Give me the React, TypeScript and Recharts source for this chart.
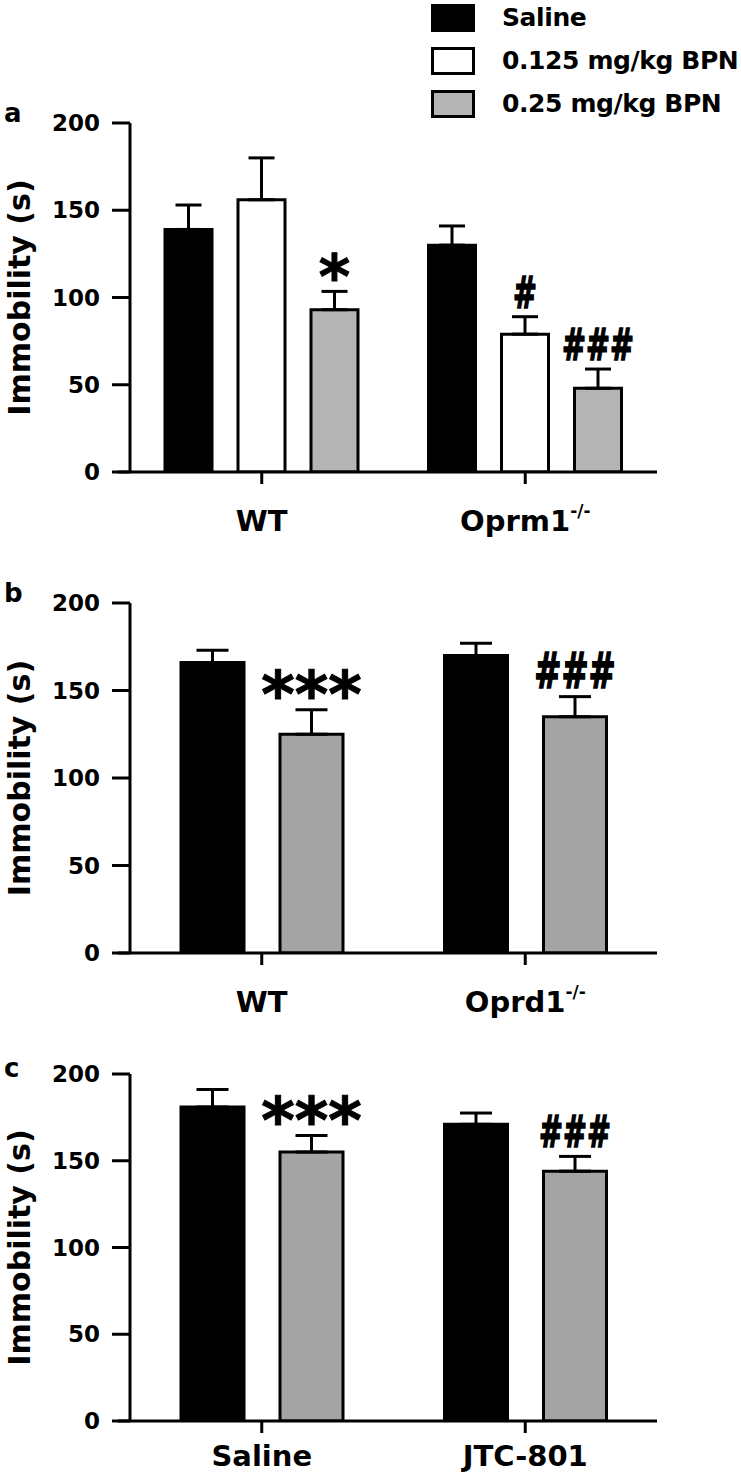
import React from "react";
import { Bar, BarChart, ErrorBar, LabelList, Legend, XAxis, YAxis } from "recharts";

const FONT = "'DejaVu Sans', sans-serif";

const seriesNames = ["Saline", "0.125 mg/kg BPN", "0.25 mg/kg BPN"];
const yTicks = [0, 50, 100, 150, 200];

// panel a
const groupsA = ["WT", "Oprm1"];
const supA = ["", "-/-"];
const salineA = [139, 130];
const salineErrA = [14, 11];
const lowA = [156, 79];
const lowErrA = [24, 10];
const highA = [93, 48];
const highErrA = [10.5, 11];
const lowMarksA = ["", "#"];
const highMarksA = ["*", "###"];

// panel b
const groupsB = ["WT", "Oprd1"];
const supB = ["", "-/-"];
const salineB = [166, 170];
const salineErrB = [7, 7];
const highB = [125, 135];
const highErrB = [14, 11.5];
const highMarksB = ["***", "###"];

// panel c
const groupsC = ["Saline", "JTC-801"];
const supC = ["", ""];
const salineC = [181, 171];
const salineErrC = [10, 6.5];
const highC = [155, 144];
const highErrC = [9.5, 8.5];
const highMarksC = ["***", "###"];

const GRAY_A = "#b4b4b4";
const GRAY_BC = "#a4a4a4";

type Series = {
  key: string;
  name: string;
  fill: string;
  values: number[];
  errs: number[];
  marks: string[] | null;
};

function makeRows(groups: string[], series: Series[]) {
  return groups.map((g, i) => {
    const row: any = { idx: i, group: g };
    series.forEach((s) => {
      row[s.key] = s.values[i];
      row[s.key + "Err"] = [0, s.errs[i]];
    });
    return row;
  });
}

function makeMark(s: Series, starSize: number, hashSize: number) {
  return (props: any) => {
    const vb = props.viewBox ?? {};
    const x = vb.x ?? props.x;
    const y = vb.y ?? props.y;
    const w = vb.width ?? props.width;
    const h = vb.height ?? props.height;
    const i = props.value;
    const mark = s.marks ? s.marks[i] : "";
    if (!mark || x == null) return null;
    const perUnit = Math.abs(h) / s.values[i];
    const errTop = Math.min(y, y + h) - s.errs[i] * perUnit;
    const cx = x + w / 2;
    if (mark.startsWith("*")) {
      return (
        <text
          x={cx}
          y={errTop + 7}
          textAnchor="middle"
          fontFamily={FONT}
          fontWeight="bold"
          fontSize={starSize}
          fill="#000"
          stroke="#000"
          strokeWidth={1}
        >
          {mark}
        </text>
      );
    }
    // hashes are tall and narrow in the figure
    return (
      <text
        transform={`translate(${cx} ${errTop - 9}) scale(0.65 1)`}
        x={0}
        y={0}
        textAnchor="middle"
        fontFamily={FONT}
        fontWeight="bold"
        fontSize={hashSize}
        fill="#000"
        stroke="#000"
        strokeWidth={1.6}
      >
        {mark}
      </text>
    );
  };
}

function LegendBox({ payload }: any) {
  const items = [...(payload ?? [])].sort(
    (a: any, b: any) => seriesNames.indexOf(a.value) - seriesNames.indexOf(b.value)
  );
  return (
    <div>
      {items.map((p: any, i: number) => (
        <div key={i} style={{ display: "flex", alignItems: "center", height: 43 }}>
          <div
            style={{
              flexShrink: 0,
              width: 38,
              height: 22,
              border: "3px solid #000",
              background: p.payload?.fill ?? p.color,
            }}
          />
          <span
            style={{
              marginLeft: 27,
              fontFamily: FONT,
              fontWeight: "bold",
              fontSize: 25,
              letterSpacing: -0.4,
              color: "#000",
              whiteSpace: "nowrap",
            }}
          >
            {p.value}
          </span>
        </div>
      ))}
    </div>
  );
}

function Panel({
  top,
  height,
  marginTop,
  axisHeight,
  groups,
  sups,
  series,
  barSize,
  barGap,
  capHalf,
  labelOffset,
  starSize,
  hashSize,
  legend,
}: {
  top: number;
  height: number;
  marginTop: number;
  axisHeight: number;
  groups: string[];
  sups: string[];
  series: Series[];
  barSize: number;
  barGap: number;
  capHalf: number;
  labelOffset: number;
  starSize: number;
  hashSize: number;
  legend?: boolean;
}) {
  const data = makeRows(groups, series);
  const catTick = (p: any) => {
    const i = groups.indexOf(p.payload.value);
    const sup = sups[i] ?? "";
    return (
      <text
        x={p.x}
        y={p.y - 12 + labelOffset}
        textAnchor="middle"
        fontFamily={FONT}
        fontWeight="bold"
        fontSize={29}
        fill="#000"
      >
        {p.payload.value}
        {sup ? (
          <tspan fontSize={17} dy={-14}>
            {sup}
          </tspan>
        ) : null}
      </text>
    );
  };
  const yLabel = (p: any) => {
    const vb = p.viewBox ?? {};
    const cy = (vb.y ?? marginTop) + (vb.height ?? 350) / 2;
    return (
      <text
        x={30}
        y={cy}
        transform={`rotate(-90 30 ${cy})`}
        textAnchor="middle"
        fontFamily={FONT}
        fontWeight="bold"
        fontSize={30}
        fill="#000"
      >
        Immobility (s)
      </text>
    );
  };
  return (
    <div style={{ position: "absolute", left: 0, top, width: 741, height }}>
      <BarChart
        width={741}
        height={height}
        data={data}
        margin={{ top: marginTop, right: 84, bottom: 0, left: 0 }}
        barGap={barGap}
      >
        <XAxis
          dataKey="group"
          height={axisHeight}
          padding={{ left: 12, right: 0 }}
          axisLine={{ stroke: "#000", strokeWidth: 3 }}
          tickLine={{ stroke: "#000", strokeWidth: 3 }}
          tickSize={12}
          tickMargin={0}
          tick={catTick}
          interval={0}
        />
        <YAxis
          width={118}
          domain={[0, 200]}
          ticks={yTicks}
          interval={0}
          allowDataOverflow
          axisLine={{ stroke: "#000", strokeWidth: 3, transform: "translate(12 0)" }}
          tickLine={{ stroke: "#000", strokeWidth: 3, transform: "translate(12 0)" }}
          tickSize={18}
          tickMargin={0}
          tick={{ fill: "#000", fontSize: 23, fontWeight: "bold", fontFamily: FONT }}
          label={yLabel}
        />
        {legend ? (
          <Legend
            layout="vertical"
            align="center"
            verticalAlign="middle"
            wrapperStyle={{ top: -4, left: 431, width: 340 }}
            content={LegendBox}
          />
        ) : null}
        {series.map((s) => (
          <Bar
            key={s.key}
            dataKey={s.key}
            name={s.name}
            fill={s.fill}
            stroke="#000"
            strokeWidth={3}
            barSize={barSize}
            isAnimationActive={false}
          >
            <ErrorBar
              dataKey={s.key + "Err"}
              direction="y"
              width={capHalf}
              stroke="#000"
              strokeWidth={3}
              isAnimationActive={false}
            />
            {s.marks ? (
              <LabelList dataKey="idx" content={makeMark(s, starSize, hashSize)} />
            ) : null}
          </Bar>
        ))}
      </BarChart>
    </div>
  );
}

const seriesA: Series[] = [
  { key: "saline", name: seriesNames[0], fill: "#000000", values: salineA, errs: salineErrA, marks: null },
  { key: "low", name: seriesNames[1], fill: "#ffffff", values: lowA, errs: lowErrA, marks: lowMarksA },
  { key: "high", name: seriesNames[2], fill: GRAY_A, values: highA, errs: highErrA, marks: highMarksA },
];

const seriesB: Series[] = [
  { key: "saline", name: seriesNames[0], fill: "#000000", values: salineB, errs: salineErrB, marks: null },
  { key: "high", name: seriesNames[2], fill: GRAY_BC, values: highB, errs: highErrB, marks: highMarksB },
];

const seriesC: Series[] = [
  { key: "saline", name: seriesNames[0], fill: "#000000", values: salineC, errs: salineErrC, marks: null },
  { key: "high", name: seriesNames[2], fill: GRAY_BC, values: highC, errs: highErrC, marks: highMarksC },
];

export default function App() {
  return (
    <div
      style={{
        position: "absolute",
        left: 0,
        top: 0,
        width: 741,
        height: 1474,
        background: "#fff",
        overflow: "hidden",
      }}
    >
      <Panel
        top={0}
        height={545}
        marginTop={123}
        axisHeight={73}
        groups={groupsA}
        sups={supA}
        series={seriesA}
        barSize={47}
        barGap={26}
        capHalf={13}
        labelOffset={59}
        starSize={60}
        hashSize={44}
        legend
      />
      <Panel
        top={480}
        height={545}
        marginTop={123}
        axisHeight={72}
        groups={groupsB}
        sups={supB}
        series={seriesB}
        barSize={63}
        barGap={36}
        capHalf={16}
        labelOffset={59}
        starSize={64}
        hashSize={50}
      />
      <Panel
        top={960}
        height={514}
        marginTop={114}
        axisHeight={53}
        groups={groupsC}
        sups={supC}
        series={seriesC}
        barSize={63}
        barGap={36}
        capHalf={16}
        labelOffset={45}
        starSize={64}
        hashSize={44}
      />
      <svg
        width={741}
        height={1474}
        style={{ position: "absolute", left: 0, top: 0, pointerEvents: "none" }}
      >
        {["a", "b", "c"].map((t, i) => (
          <text
            key={t}
            x={4}
            y={[122, 602, 1077][i]}
            fontFamily={FONT}
            fontWeight="bold"
            fontSize={26}
            fill="#000"
          >
            {t}
          </text>
        ))}
      </svg>
    </div>
  );
}
